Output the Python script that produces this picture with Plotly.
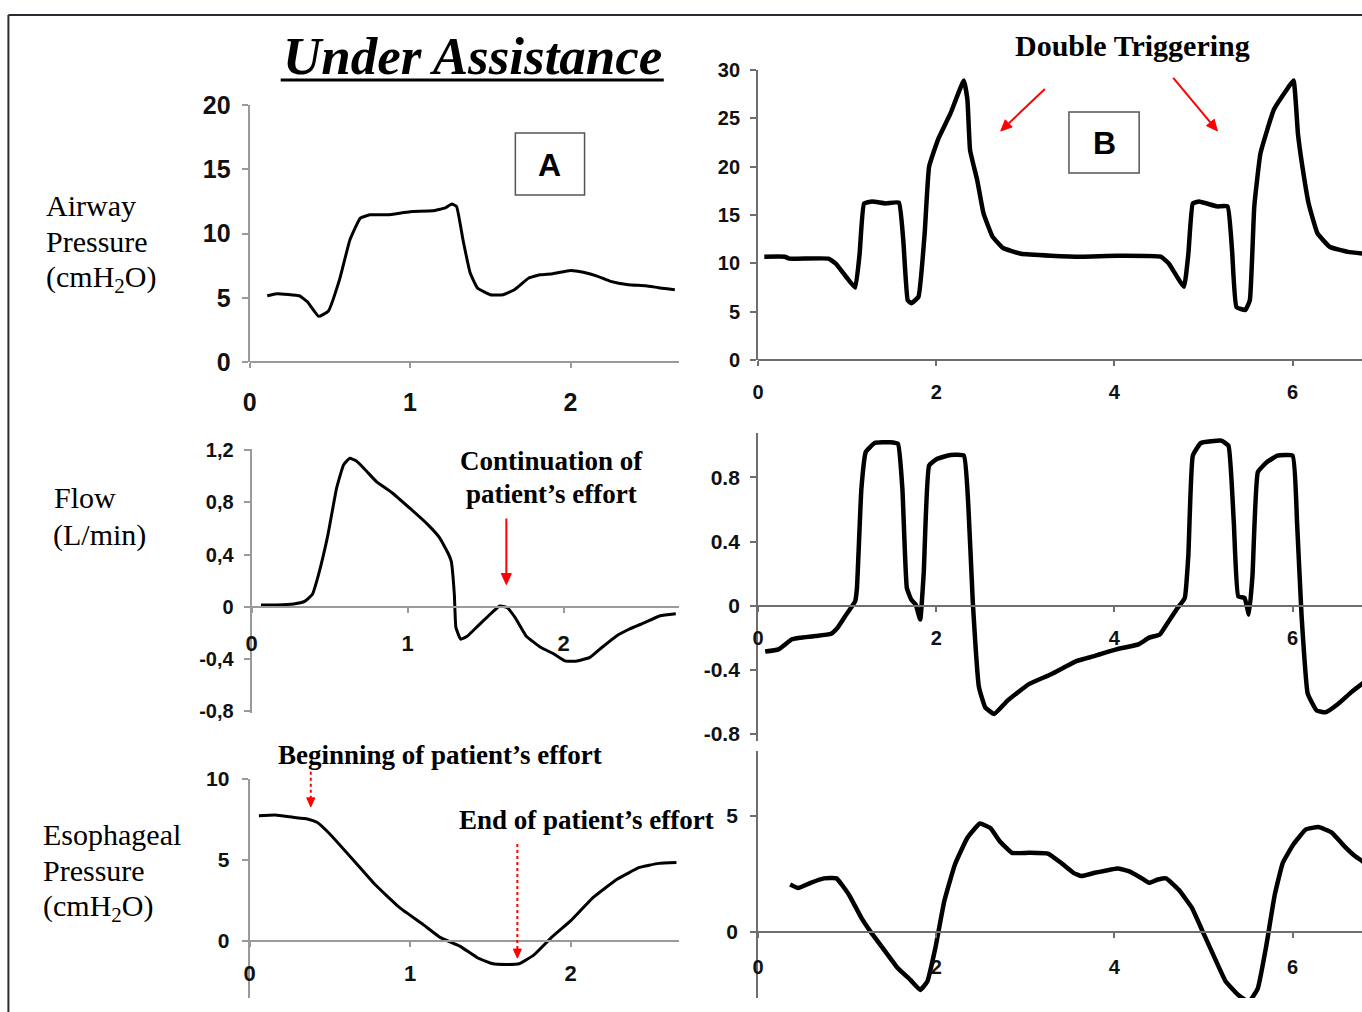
import plotly.graph_objects as go

W, H = 1362, 1012

# ---------------- Panel A: under assistance ----------------
a_paw_t = [0.11, 0.17, 0.31, 0.36, 0.43, 0.49, 0.56, 0.625, 0.69, 0.75, 0.86, 1.0, 1.14,
           1.22, 1.26, 1.29, 1.33, 1.375, 1.42, 1.5, 1.58, 1.65, 1.74, 1.81, 1.89, 2.0,
           2.08, 2.17, 2.25, 2.36, 2.47, 2.56, 2.65]
a_paw = [5.17, 5.33, 5.17, 4.7, 3.57, 3.96, 6.4, 9.5, 11.2, 11.46, 11.46, 11.7, 11.77,
         12.0, 12.3, 12.1, 9.5, 6.93, 5.77, 5.25, 5.25, 5.64, 6.55, 6.8, 6.88, 7.14,
         6.99, 6.68, 6.29, 6.03, 5.95, 5.77, 5.64]

a_flow_t = [0.06, 0.16, 0.27, 0.34, 0.39, 0.43, 0.49, 0.545, 0.59, 0.63, 0.67, 0.73, 0.80,
            0.90, 1.02, 1.13, 1.205, 1.26, 1.28, 1.30, 1.31, 1.34, 1.38, 1.45, 1.52, 1.59,
            1.64, 1.69, 1.76, 1.85, 1.94, 2.01, 2.08, 2.17, 2.25, 2.34, 2.42, 2.52, 2.62, 2.72]
a_flow = [0.013, 0.013, 0.02, 0.04, 0.095, 0.25, 0.555, 0.91, 1.09, 1.14, 1.12, 1.05, 0.96,
          0.875, 0.75, 0.63, 0.53, 0.41, 0.35, 0.095, -0.16, -0.25, -0.23, -0.15, -0.07, 0.005,
          -0.008, -0.085, -0.225, -0.31, -0.365, -0.417, -0.42, -0.39, -0.31, -0.225, -0.174,
          -0.123, -0.07, -0.054]

a_pes_t = [0.058, 0.16, 0.27, 0.36, 0.42, 0.50, 0.65, 0.78, 0.935, 1.08, 1.19, 1.31, 1.42,
           1.51, 1.60, 1.68, 1.77, 1.88, 2.0, 2.14, 2.29, 2.43, 2.55, 2.66]
a_pes = [7.73, 7.77, 7.63, 7.53, 7.32, 6.6, 4.95, 3.5, 2.06, 1.03, 0.21, -0.31, -1.03,
         -1.38, -1.44, -1.40, -0.87, 0.21, 1.24, 2.68, 3.81, 4.54, 4.79, 4.85]

# ---------------- Panel B: double triggering ----------------
b_paw_t = [0.07, 0.30, 0.35, 0.79, 0.87, 0.99, 1.09, 1.14, 1.19, 1.28, 1.43, 1.58, 1.63,
           1.68, 1.72, 1.80, 1.87, 1.92, 2.02, 2.16, 2.31, 2.35, 2.38, 2.46, 2.53, 2.63,
           2.75, 2.95, 3.29, 3.63, 4.03, 4.52, 4.61, 4.78, 4.83, 4.88, 4.95, 5.15, 5.27,
           5.32, 5.37, 5.47, 5.52, 5.57, 5.64, 5.79, 5.93, 6.01, 6.06, 6.11, 6.18, 6.28,
           6.42, 6.62, 6.81]
b_paw = [10.7, 10.7, 10.5, 10.5, 10.0, 8.6, 7.5, 11.0, 16.2, 16.4, 16.2, 16.3, 12.4,
         6.2, 5.9, 6.55, 13.1, 20.0, 22.8, 25.5, 28.9, 26.9, 21.7, 18.6, 15.2, 12.8,
         11.6, 11.0, 10.8, 10.7, 10.8, 10.7, 10.0, 7.6, 11.0, 16.2, 16.4, 15.9, 15.9,
         11.4, 5.5, 5.2, 6.2, 15.9, 21.4, 25.9, 27.9, 28.9, 23.4, 20.0, 16.2, 13.1,
         11.7, 11.2, 11.0]

b_flow_t = [0.08, 0.23, 0.38, 0.47, 0.645, 0.82, 0.89, 0.99, 1.09, 1.11, 1.16, 1.21, 1.31,
            1.48, 1.57, 1.62, 1.67, 1.72, 1.77, 1.82, 1.86, 1.92, 2.01, 2.16, 2.31, 2.36,
            2.41, 2.48, 2.55, 2.65, 2.80, 3.04, 3.29, 3.58, 3.78, 4.02, 4.27, 4.39, 4.51,
            4.61, 4.71, 4.79, 4.83, 4.88, 4.97, 5.20, 5.28, 5.34, 5.39, 5.46, 5.51, 5.55,
            5.61, 5.71, 5.83, 6.00, 6.05, 6.10, 6.17, 6.27, 6.37, 6.51, 6.66, 6.80]
b_flow = [-0.287, -0.273, -0.21, -0.20, -0.19, -0.176, -0.14, -0.056, 0.027, 0.11, 0.73,
          0.96, 1.015, 1.02, 1.01, 0.73, 0.11, 0.037, 0.006, -0.087, 0.21, 0.874, 0.916,
          0.94, 0.936, 0.626, 0.027, -0.51, -0.635, -0.676, -0.593, -0.49, -0.428, -0.345,
          -0.314, -0.273, -0.242, -0.2, -0.18, -0.097, -0.014, 0.048, 0.316, 0.936, 1.015,
          1.03, 0.998, 0.52, 0.058, 0.048, -0.056, 0.19, 0.833, 0.895, 0.936, 0.936, 0.52,
          -0.056, -0.55, -0.655, -0.666, -0.614, -0.54, -0.48]

b_pes_t = [0.36, 0.45, 0.59, 0.74, 0.88, 1.02, 1.16, 1.26, 1.40, 1.57, 1.71, 1.82, 1.90,
           1.99, 2.09, 2.21, 2.35, 2.49, 2.61, 2.71, 2.85, 3.04, 3.26, 3.40, 3.54, 3.63,
           3.78, 4.04, 4.16, 4.30, 4.39, 4.49, 4.58, 4.72, 4.87, 4.99, 5.11, 5.25, 5.39,
           5.51, 5.61, 5.70, 5.80, 5.89, 6.01, 6.15, 6.29, 6.44, 6.58, 6.70, 6.81]
b_pes = [2.05, 1.90, 2.12, 2.31, 2.31, 1.61, 0.61, 0.03, -0.69, -1.56, -2.06, -2.49, -2.13,
         -0.69, 1.33, 2.91, 4.06, 4.67, 4.47, 3.92, 3.41, 3.41, 3.37, 2.98, 2.55, 2.41,
         2.55, 2.74, 2.62, 2.33, 2.12, 2.26, 2.31, 1.83, 1.04, 0.03, -0.98, -2.13, -2.71,
         -3.0, -2.42, -0.69, 1.61, 2.98, 3.78, 4.42, 4.52, 4.28, 3.70, 3.27, 2.98]

# ---------------- tick labels ----------------
left_x_ticks = [0, 1, 2]
right_x_ticks = [0, 2, 4, 6]
a_paw_ticks = [0, 5, 10, 15, 20]
a_flow_ticks = [-0.8, -0.4, 0, 0.4, 0.8, 1.2]
a_flow_ticktext = ["-0,8", "-0,4", "0", "0,4", "0,8", "1,2"]
a_pes_ticks = [0, 5, 10]
b_paw_ticks = [0, 5, 10, 15, 20, 25, 30]
b_flow_ticks = [-0.8, -0.4, 0, 0.4, 0.8]
b_flow_ticktext = ["-0.8", "-0.4", "0", "0.4", "0.8"]
b_pes_ticks = [0, 5]

# The page is shown slightly inset and squeezed; layout positions below are given in
# on-screen pixels and converted to figure pixels with this affine map.
OX, SX = 8.1, 0.992
OY, SY = 14.2, 0.971
X_MIN, X_MAX = OX, OX + SX * W
Y_MIN, Y_MAX = OY, OY + SY * H


def fx(px):
    return ((px - OX) / SX) / W


def fy(py):
    return 1 - ((py - OY) / SY) / H


def clamp(v, lo, hi):
    return max(lo, min(hi, v))


TICK_FAMILY = "Liberation Sans Narrow, Arial Narrow, Liberation Sans, Arial, sans-serif"
SERIF = "Liberation Serif, Times New Roman, serif"

# Each panel: screen box (left, right, top, bottom) and two calibration ticks per axis
# (value, screen pixel) that fix the scale; x axis drawn at the row of value 0.
panels = [
    dict(t=a_paw_t, v=a_paw, box=(250, 678, 105, 362), xcal=(0, 250, 2, 570), ycal=(0, 362, 20, 105),
         xt=left_x_ticks, yt=a_paw_ticks, ytt=None, yfs=25, xfs=25, lw=3, axc="#9a9a9a",
         xstand=13, ystand=6),
    dict(t=a_flow_t, v=a_flow, box=(252, 678, 449, 712), xcal=(0, 252, 2, 563), ycal=(0, 606, 1.2, 450),
         xt=left_x_ticks, yt=a_flow_ticks, ytt=a_flow_ticktext, yfs=20, xfs=22, lw=3, axc="#9a9a9a",
         xstand=12, ystand=6),
    dict(t=a_pes_t, v=a_pes, box=(250, 678, 778, 1000), xcal=(0, 250, 2, 570), ycal=(0, 940, 10, 778),
         xt=left_x_ticks, yt=a_pes_ticks, ytt=None, yfs=21, xfs=22, lw=3, axc="#9a9a9a",
         xstand=8, ystand=8),
    dict(t=b_paw_t, v=b_paw, box=(757, 1362, 70, 360), xcal=(0, 757, 6, 1290), ycal=(0, 360, 30, 70),
         xt=right_x_ticks, yt=b_paw_ticks, ytt=None, yfs=20, xfs=20, lw=4.5, axc="#6e6e6e",
         xstand=9, ystand=6),
    dict(t=b_flow_t, v=b_flow, box=(757, 1362, 433, 740), xcal=(0, 757, 6, 1290), ycal=(0, 605, 0.8, 477),
         xt=right_x_ticks, yt=b_flow_ticks, ytt=b_flow_ticktext, yfs=21, xfs=20, lw=4.5, axc="#6e6e6e",
         xstand=9, ystand=6),
    dict(t=b_pes_t, v=b_pes, box=(757, 1362, 750, 1012), xcal=(0, 757, 6, 1290), ycal=(0, 931, 5, 815),
         xt=right_x_ticks, yt=b_pes_ticks, ytt=None, yfs=21, xfs=20, lw=4.5, axc="#6e6e6e",
         xstand=12, ystand=8),
]


def value_at(cal, pix):
    va, pa, vb, pb = cal
    return va + (pix - pa) * (vb - va) / (pb - pa)


fig = go.Figure()
layout = {}
for i, p in enumerate(panels, start=1):
    x0, x1, y0, y1 = p["box"]
    x0, x1 = clamp(x0, X_MIN, X_MAX), clamp(x1, X_MIN, X_MAX)
    y0, y1 = clamp(y0, Y_MIN, Y_MAX), clamp(y1, Y_MIN, Y_MAX)
    xr = [value_at(p["xcal"], x0), value_at(p["xcal"], x1)]
    yr = [value_at(p["ycal"], y1), value_at(p["ycal"], y0)]
    zero_row = p["ycal"][1]
    fig.add_trace(go.Scatter(
        x=p["t"], y=p["v"], xaxis=f"x{i}", yaxis=f"y{i}", mode="lines",
        line=dict(color="black", width=p["lw"], shape="spline", smoothing=0.35),
        showlegend=False, hoverinfo="skip"))
    layout[f"xaxis{i}"] = dict(
        domain=[fx(x0), fx(x1)], range=xr, anchor="free", position=fy(zero_row),
        tickmode="array", tickvals=p["xt"], ticks="outside", ticklen=5, tickwidth=1.5,
        tickcolor=p["axc"], showline=True, linecolor=p["axc"], linewidth=2,
        showgrid=False, zeroline=False, fixedrange=True,
        tickfont=dict(family=TICK_FAMILY, size=p["xfs"], color="#111", weight=700),
        ticklabelstandoff=p["xstand"])
    ydict = dict(
        domain=[fy(y1), fy(y0)], range=yr, anchor=f"x{i}",
        tickmode="array", tickvals=p["yt"], ticks="outside", ticklen=6, tickwidth=1.5,
        tickcolor=p["axc"], showline=True, linecolor=p["axc"], linewidth=2,
        showgrid=False, zeroline=False, fixedrange=True,
        tickfont=dict(family=TICK_FAMILY, size=p["yfs"], color="#111", weight=700),
        ticklabelstandoff=p["ystand"])
    if p["ytt"] is not None:
        ydict["ticktext"] = p["ytt"]
    layout[f"yaxis{i}"] = ydict


def pline(xa, ya, xb, yb, color, width, dash="solid"):
    return dict(type="line", xref="paper", yref="paper", x0=fx(xa), x1=fx(xb), y0=fy(ya), y1=fy(yb),
                line=dict(color=color, width=width, dash=dash))


def arrow_shapes(xt, yt, xh, yh, dash="solid", head=11, half=5):
    # shaft from tail to the base of the head, then a filled triangular head
    dx, dy = xh - xt, yh - yt
    n = (dx * dx + dy * dy) ** 0.5
    ux, uy = dx / n, dy / n
    bx, by = xh - ux * head, yh - uy * head
    px_, py_ = -uy, ux
    path = "M {:.5f} {:.5f} L {:.5f} {:.5f} L {:.5f} {:.5f} Z".format(
        fx(xh), fy(yh),
        fx(bx + px_ * half), fy(by + py_ * half),
        fx(bx - px_ * half), fy(by - py_ * half))
    return [pline(xt, yt, bx, by, "red", 2, dash),
            dict(type="path", xref="paper", yref="paper", path=path,
                 fillcolor="red", line=dict(color="red", width=1))]


shapes = [
    # outer frame
    pline(9.5, Y_MIN + 1, 9.5, 1012, "#2b2b33", 2),
    pline(9.5, Y_MIN + 1, 1362, Y_MIN + 1, "#2b2b33", 2),
    # title underline
    pline(281, 80, 663, 80, "black", 3),
    # panel letter boxes
    dict(type="rect", xref="paper", yref="paper", x0=fx(515), x1=fx(584), y0=fy(133), y1=fy(195),
         line=dict(color="#555", width=1.5)),
    dict(type="rect", xref="paper", yref="paper", x0=fx(1067), x1=fx(1137), y0=fy(112), y1=fy(173),
         line=dict(color="#555", width=1.5)),
]
shapes += arrow_shapes(506, 518, 506, 584)
shapes += arrow_shapes(1043, 89, 999, 131)
shapes += arrow_shapes(1171, 78, 1215, 131)
shapes += arrow_shapes(311, 771, 311, 806, dash="dot", head=9, half=4)
shapes += arrow_shapes(517, 843, 517, 957, dash="dot", head=9, half=4)


def text(x, y, s, size, family=SERIF, bold=False, italic=False, anchor="center", color="black"):
    return dict(xref="paper", yref="paper", x=fx(x), y=fy(y), text=s, showarrow=False,
                xanchor=anchor, yanchor="middle",
                font=dict(family=family, size=size, color=color,
                          weight=700 if bold else 400, style="italic" if italic else "normal"))


annotations = [
    text(472, 56, "Under Assistance", 53, bold=True, italic=True),
    text(549, 165, "A", 32, family="Liberation Sans, Arial, sans-serif", bold=True),
    text(1102, 143, "B", 32, family="Liberation Sans, Arial, sans-serif", bold=True),
    text(1130, 46, "Double Triggering", 30, bold=True),
    text(45, 205, "Airway", 30, anchor="left"),
    text(45, 241, "Pressure", 30, anchor="left"),
    text(45, 279, "(cmH<sub>2</sub>O)", 30, anchor="left"),
    text(53, 497, "Flow", 30, anchor="left"),
    text(52, 534, "(L/min)", 30, anchor="left"),
    text(42, 834, "Esophageal", 30, anchor="left"),
    text(42, 870, "Pressure", 30, anchor="left"),
    text(42, 907, "(cmH<sub>2</sub>O)", 30, anchor="left"),
    text(551, 461, "Continuation of", 27, bold=True),
    text(551, 494, "patient\u2019s effort", 27, bold=True),
    text(440, 754, "Beginning of patient\u2019s effort", 27, bold=True),
    text(586, 819, "End of patient\u2019s effort", 27, bold=True),
]

fig.update_layout(
    width=W, height=H, margin=dict(l=0, r=0, t=0, b=0),
    paper_bgcolor="white", plot_bgcolor="white",
    shapes=shapes, annotations=annotations, **layout)

fig.write_html("out.html")
